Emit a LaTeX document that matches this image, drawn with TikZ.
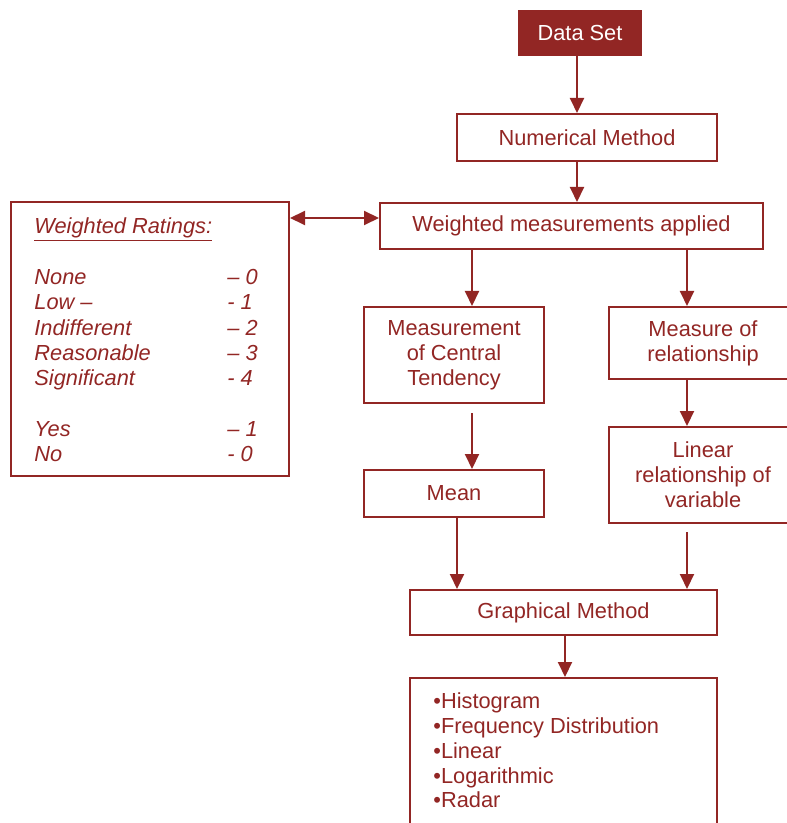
\documentclass[tikz,border=0pt]{standalone}
\usepackage{fontspec}
\setmainfont{Liberation Sans}
\usetikzlibrary{arrows.meta}
\definecolor{wine}{RGB}{146,38,36}

\begin{document}
\begin{tikzpicture}[x=0.5pt,y=-0.5pt,
    box/.style={draw=wine,line width=1pt,text=wine,align=center,inner sep=0pt,
      font=\fontsize{10.9}{12.5}\selectfont},
    txt/.style={text=wine,inner sep=0pt,anchor=north west},
    arr/.style={draw=wine,line width=1pt,-{Triangle[width=7pt,length=7.5pt]}},
    dbl/.style={draw=wine,line width=1pt,{Triangle[width=7pt,length=7.5pt]}-{Triangle[width=7pt,length=7.5pt]}}]
    \useasboundingbox (0,0) rectangle (786,823);

    \node[box,fill=wine,text=white,minimum width=61pt,minimum height=22pt] (data) at (580,33) {Data Set};
    \node[box,minimum width=130pt,minimum height=23.5pt] (num) at (587,137.5) {Numerical Method};
    \node[box,minimum width=191.5pt,minimum height=23pt] (wm) at (571.5,226) {Weighted measurements applied};
    \node[box,minimum width=139pt,minimum height=137pt] (ratings) at (150,339) {};
    \node[box,minimum width=90pt,minimum height=48pt] (mct) at (454,355) {Measurement\\of Central\\Tendency};
    \node[box,minimum width=94pt,minimum height=36pt] (mor) at (703,343) {Measure of\\relationship};
    \node[box,minimum width=90pt,minimum height=23.5pt] (mean) at (454,493.5) {Mean};
    \node[box,minimum width=94pt,minimum height=48pt] (lin) at (703,475) {Linear\\relationship of\\variable};
    \node[box,minimum width=153.5pt,minimum height=22.5pt] (graph) at (563.5,612.5) {Graphical Method};
    \node[box,minimum width=153.5pt,minimum height=91pt] (list) at (563.5,769) {};

    \node[txt,font=\fontsize{10.9}{12.65}\selectfont\itshape] (rtext) at (34,215) {%
      \begin{tabular}{@{}p{96.5pt}@{}l@{}}
        \underline{Weighted Ratings:} & \\
        & \\
        None & – 0\\
        Low – & - 1\\
        Indifferent & – 2\\
        Reasonable & – 3\\
        Significant & - 4\\
        & \\
        Yes & – 1\\
        No & - 0
      \end{tabular}};
    \node[txt,font=\fontsize{10.9}{12.4}\selectfont] (ltext) at (433,691) {%
      \begin{tabular}{@{}l@{}}
        •Histogram\\
        •Frequency Distribution\\
        •Linear\\
        •Logarithmic\\
        •Radar
      \end{tabular}};

    \coordinate (mid) at ([xshift=-1.5pt]data.south);
    \coordinate (left) at ([xshift=9pt]mct.north);
    \coordinate (right) at ([xshift=-8pt]mor.north);
    \coordinate (down) at ([xshift=1.5pt]mean.south);

    \draw[arr] (mid) -- (mid |- num.north);
    \draw[arr] (mid |- num.south) -- (mid |- wm.north);
    \draw[dbl] ([yshift=4pt]wm.west) -- ([yshift=4pt]wm.west -| ratings.east);
    \draw[arr] (left |- wm.south) -- (left);
    \draw[arr] (right |- wm.south) -- (right);
    \draw[arr,shorten <=4.5pt] (left |- mct.south) -- (left |- mean.north);
    \draw[arr] (right |- mor.south) -- (right |- lin.north);
    \draw[arr] (down) -- (down |- graph.north);
    \draw[arr,shorten <=4pt] (right |- lin.south) -- (right |- graph.north);
    \draw[arr] ([xshift=0.75pt]graph.south) -- ([xshift=0.75pt]list.north);
\end{tikzpicture}
\end{document}
